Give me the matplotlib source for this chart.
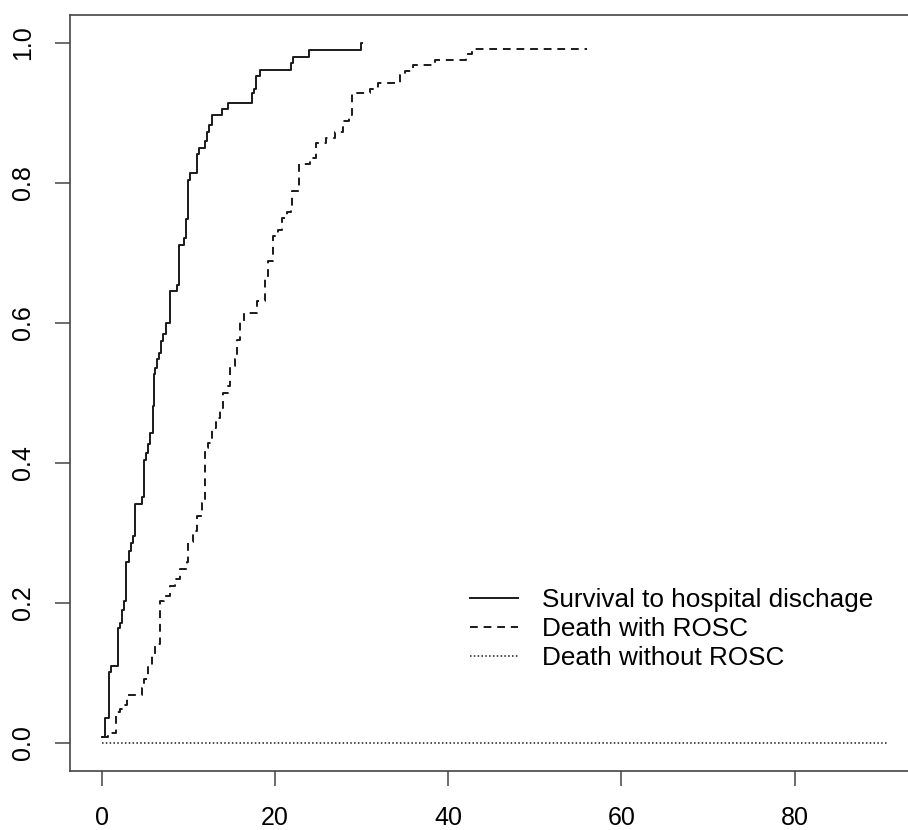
import numpy as np
import matplotlib
matplotlib.use("Agg")
import matplotlib.pyplot as plt

plt.rcParams["font.family"] = ["Liberation Sans", "DejaVu Sans"]

# Cumulative incidence (step functions)
surv_t = [0, 0.38, 0.84, 1.04, 1.88, 2.11, 2.38, 2.54, 2.8, 3.15, 3.35, 3.65, 3.84,
          4.62, 4.88, 5.1, 5.38, 5.58, 5.89, 6.0, 6.15, 6.35, 6.6, 6.85, 7.1, 7.4,
          7.88, 8.73, 8.92, 9.54, 9.7, 9.93, 10.2, 10.97, 11.27, 11.97, 12.2, 12.4,
          12.7, 13.86, 14.6, 17.4, 17.6, 17.8, 18.3, 21.9, 22.1, 23.9, 29.94, 30.0]
surv_y = [0.008, 0.036, 0.101, 0.11, 0.164, 0.171, 0.19, 0.203, 0.258, 0.275, 0.286, 0.296, 0.342,
          0.352, 0.405, 0.415, 0.427, 0.443, 0.481, 0.527, 0.536, 0.548, 0.557, 0.574, 0.584, 0.600,
          0.646, 0.655, 0.712, 0.721, 0.748, 0.805, 0.814, 0.841, 0.850, 0.860, 0.873, 0.883,
          0.897, 0.906, 0.915, 0.928, 0.935, 0.953, 0.961, 0.971, 0.980, 0.990, 1.0, 1.0]

rosc_t = [0, 0.76, 1.65, 2.1, 2.5, 2.88, 4.62, 4.88, 5.38, 5.77, 6.15, 6.73, 7.2, 7.89,
          8.46, 9.04, 9.81, 10.0, 10.58, 10.97, 11.55, 11.93, 12.3, 12.7, 13.2, 13.66,
          13.97, 14.55, 14.8, 15.4, 15.66, 15.97, 16.4, 17.9, 18.86, 19.23, 19.8, 20.4,
          20.8, 21.36, 21.8, 21.94, 22.8, 24.05, 24.7, 25.9, 26.9, 27.9, 28.5, 28.9,
          30.98, 31.9, 34.4, 35.0, 35.98, 38.5, 42.1, 42.8, 56.0]
rosc_y = [0.008, 0.015, 0.044, 0.048, 0.054, 0.069, 0.078, 0.092, 0.108, 0.125, 0.142, 0.203, 0.21, 0.225,
          0.234, 0.249, 0.258, 0.287, 0.303, 0.325, 0.343, 0.422, 0.429, 0.45, 0.465, 0.479,
          0.5, 0.51, 0.538, 0.548, 0.576, 0.603, 0.614, 0.631, 0.664, 0.688, 0.725, 0.733,
          0.75, 0.759, 0.766, 0.788, 0.827, 0.836, 0.857, 0.865, 0.873, 0.889, 0.897, 0.928,
          0.935, 0.943, 0.954, 0.96, 0.968, 0.976, 0.984, 0.992, 0.992]

norosc_t = [0, 90.7]
norosc_y = [0, 0]

labels = ["Survival to hospital dischage", "Death with ROSC", "Death without ROSC"]

fig = plt.figure(figsize=(9.08, 8.30), dpi=100)
ax = fig.add_axes([70 / 908, 59 / 830, 851 / 908, 756 / 830])

lc = "#1a1a1a"
ax.plot(surv_t, surv_y, drawstyle="steps-post", color=lc, lw=1.4, ls="-", label=labels[0])
ax.plot(rosc_t, rosc_y, drawstyle="steps-post", color=lc, lw=1.4, ls=(0, (4, 3)), label=labels[1])
ax.plot(norosc_t, norosc_y, drawstyle="steps-post", color=lc, lw=1.1, ls=(0, (1, 1.5)), label=labels[2])

ax.set_xlim(-3.66, 94.6)
ax.set_ylim(-0.04, 1.04)
ax.set_xticks([0, 20, 40, 60, 80])
ax.set_yticks([0, 0.2, 0.4, 0.6, 0.8, 1.0])
ax.set_yticklabels(["0.0", "0.2", "0.4", "0.6", "0.8", "1.0"], rotation=90, va="center")

for s in ax.spines.values():
    s.set_linewidth(1.2)
    s.set_color("#444444")
ax.tick_params(axis="both", length=11, width=1.1, color="#444444", labelsize=18)
ax.tick_params(axis="x", pad=14)
ax.tick_params(axis="y", pad=14)

ax.legend(loc="upper left", bbox_to_anchor=(470 / 908, 1 - 588 / 830),
          bbox_transform=fig.transFigure, frameon=False, fontsize=18.8,
          handlelength=1.84, handletextpad=0.9, labelspacing=0.2,
          borderpad=0, borderaxespad=0)

fig.savefig("out.png", dpi=100)
